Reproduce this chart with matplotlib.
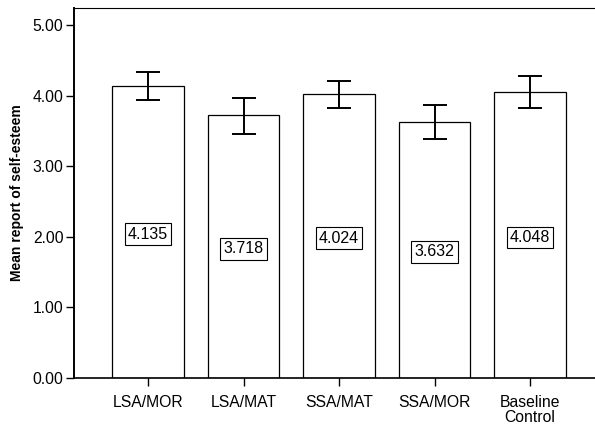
import numpy as np
from matplotlib import pyplot as plt

plt.rcParams['font.family'] = ['Liberation Sans', 'DejaVu Sans']

groups = ["LSA/MOR", "LSA/MAT", "SSA/MAT", "SSA/MOR", "Baseline\nControl"]
means = [4.135, 3.718, 4.024, 3.632, 4.048]
ci_upper = [4.33, 3.97, 4.21, 3.87, 4.27]
ci_lower = [3.94, 3.46, 3.83, 3.39, 3.82]
yticks = [0.0, 1.0, 2.0, 3.0, 4.0, 5.0]

fig = plt.figure(figsize=(5.95, 4.26), dpi=100)
ax = fig.add_axes([0.1244, 0.1127, 0.8756, 0.8685])

x = np.arange(len(groups))
means = np.array(means)
err = [means - np.array(ci_lower), np.array(ci_upper) - means]

ax.bar(x, means, width=0.75, color='white', edgecolor='black', linewidth=0.9)
ax.errorbar(x, means, yerr=err, fmt='none', ecolor='black', elinewidth=1.4,
            capsize=8.5, capthick=1.4)

for xi, m in zip(x, means):
    ax.text(xi, m / 2 - 0.03, "%.3f" % m, ha='center', va='center', fontsize=11.5,
            bbox=dict(boxstyle='square,pad=0.2', fc='white', ec='black', lw=0.8))

ax.set_xlim(-0.775, 4.68)
ax.set_ylim(0, 5.24)
ax.set_xticks(x)
ax.set_xticklabels(groups, fontsize=11.3, linespacing=1.0)
ax.set_yticks(yticks)
ax.set_yticklabels(["%.2f" % v for v in yticks], fontsize=11.3)
ax.tick_params(length=5.5, width=1)
ax.tick_params(axis='x', pad=7)
ax.tick_params(axis='y', pad=2)
ax.set_ylabel("Mean report of self-esteem", fontsize=10, fontweight='bold', labelpad=6)
ax.spines['right'].set_visible(False)
ax.spines['left'].set_linewidth(1.4)
ax.spines['bottom'].set_linewidth(1.2)

fig.savefig("out.png", dpi=100)
